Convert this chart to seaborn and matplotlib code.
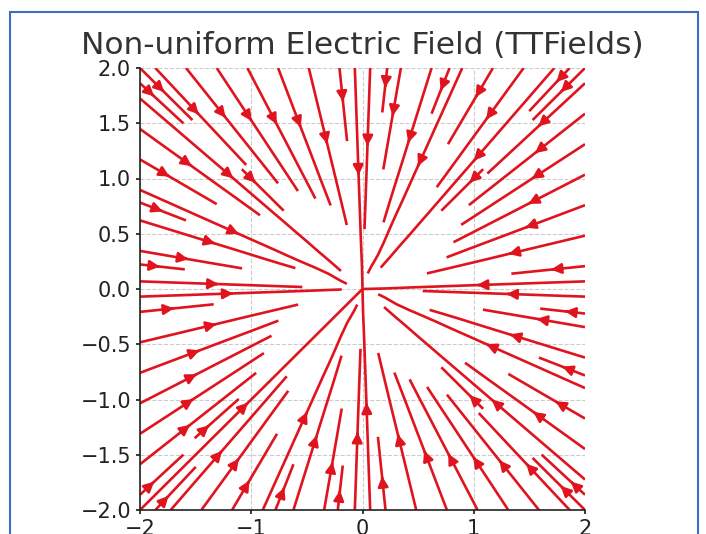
import numpy as np
import matplotlib
matplotlib.use("Agg")
import matplotlib.pyplot as plt
import seaborn as sns
from matplotlib.patches import Rectangle

# Field definition: point sink at the origin (field points toward the centre)
x_range = [-2.0, 2.0]
y_range = [-2.0, 2.0]
grid_n = 20
charge_pos = [0.0, 0.0]
ticks_x = [-2, -1, 0, 1, 2]
ticks_y = [-2.0, -1.5, -1.0, -0.5, 0.0, 0.5, 1.0, 1.5, 2.0]
title = "Non-uniform Electric Field (TTFields)"

sns.set_theme(style="whitegrid")
plt.rcParams['font.family'] = ['DejaVu Sans']

fig = plt.figure(figsize=(7.06, 5.34), dpi=100)
ax = fig.add_axes([140/706, 1-510/534, 445/706, 442/534])

xs = np.linspace(x_range[0], x_range[1], grid_n)
ys = np.linspace(y_range[0], y_range[1], grid_n)
X, Y = np.meshgrid(xs, ys)
RX = X - charge_pos[0]
RY = Y - charge_pos[1]
R = np.sqrt(RX**2 + RY**2) + 1e-9
U = -RX / R**3
V = -RY / R**3

ax.streamplot(X, Y, U, V, color="#e0141e", linewidth=1.9, density=1.0, arrowsize=1.5)

ax.set_xlim(x_range)
ax.set_ylim(y_range)
ax.set_xticks(ticks_x)
ax.set_yticks(ticks_y)
ax.set_xticklabels([str(t).replace("-", "\u2212") for t in ticks_x])
ax.set_yticklabels([f"{t:.1f}".replace("-", "\u2212") for t in ticks_y])
ax.tick_params(labelsize=15, colors="#222222", length=3, direction="out", left=True, bottom=True)
ax.grid(True, linestyle="--", color="#cccccc", linewidth=0.8)
ax.set_facecolor("white")
for s in ["top", "right"]:
    ax.spines[s].set_visible(False)
for s in ["left", "bottom"]:
    ax.spines[s].set_visible(True)
    ax.spines[s].set_color("#222222")
    ax.spines[s].set_linewidth(1.2)
ax.set_title(title, fontsize=22.5, color="#333333", pad=10)

# blue frame around the figure
fig.patches.append(Rectangle((10/706, -0.1), 688/706, 1.1 - 12/534, transform=fig.transFigure,
                             fill=False, edgecolor="#3d6cc0", linewidth=1.5))

fig.savefig("out.png", dpi=100)
